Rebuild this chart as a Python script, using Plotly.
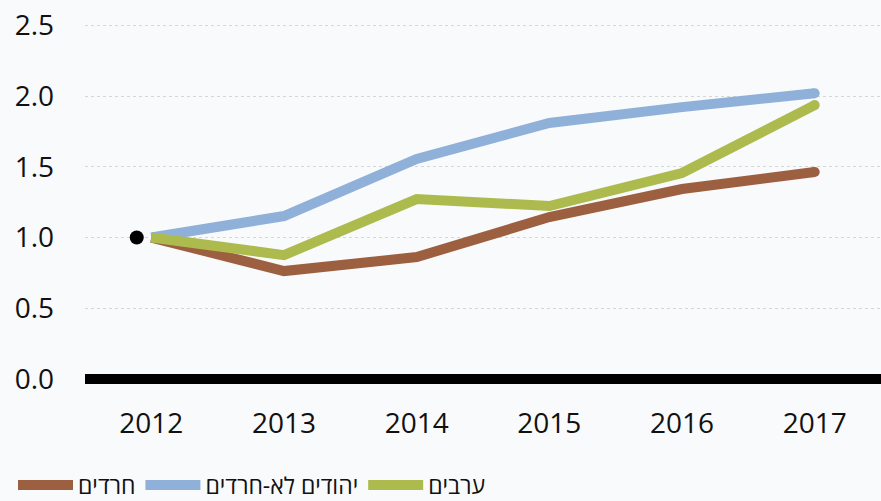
import plotly.graph_objects as go

years = [2012, 2013, 2014, 2015, 2016, 2017]
haredim = [1.0, 0.763, 0.862, 1.145, 1.343, 1.463]
jews_non_haredi = [1.0, 1.152, 1.555, 1.81, 1.922, 2.02]
arabs = [1.0, 0.876, 1.272, 1.223, 1.456, 1.936]
series_names = ["חרדים", "יהודים לא-חרדים", "ערבים"]
series_colors = ["#9c5f40", "#8fb0d8", "#adbb4e"]
base_point_x = [2011.89]
base_point_y = [1.0]
y_ticks = [0.0, 0.5, 1.0, 1.5, 2.0, 2.5]
y_ticklabels = ["0.0", "0.5", "1.0", "1.5", "2.0", "2.5"]

BG = "#f9fafc"
FONT = "Open Sans, Noto Sans, DejaVu Sans, sans-serif"

fig = go.Figure()
for name, vals, col in zip(series_names, [haredim, jews_non_haredi, arabs], series_colors):
    fig.add_trace(go.Scatter(
        x=years, y=vals, name=name, mode="lines",
        line=dict(color=col, width=10),
    ))
# round end caps at the last point of each series
for vals, col in zip([haredim, jews_non_haredi, arabs], series_colors):
    fig.add_trace(go.Scatter(
        x=[years[-1]], y=[vals[-1]], mode="markers",
        marker=dict(color=col, size=10, line=dict(width=0)),
        showlegend=False, hoverinfo="skip",
    ))

fig.add_trace(go.Scatter(
    x=base_point_x, y=base_point_y, mode="markers",
    marker=dict(color="black", size=14), showlegend=False, hoverinfo="skip",
))

fig.update_layout(
    width=881, height=501,
    margin=dict(l=85, r=0, t=12, b=101, autoexpand=False),
    paper_bgcolor=BG, plot_bgcolor=BG,
    font=dict(family=FONT, size=28, color="#111111"),
    showlegend=True,
    legend=dict(
        orientation="h", xref="container", yref="container",
        x=13 / 881, xanchor="left", y=(501 - 485) / 501, yanchor="middle",
        font=dict(size=23, color="#111111"),
        itemwidth=55, bgcolor="rgba(0,0,0,0)",
        traceorder="normal", tracegroupgap=0,
    ),
    xaxis=dict(
        range=[2011.5, 2017.5], tickvals=years, ticktext=[str(y) for y in years],
        showgrid=False, zeroline=False, showline=False, automargin=False,
        ticks="", ticklabelstandoff=4,
    ),
    yaxis=dict(
        range=[-0.148, 2.594], tickvals=y_ticks, ticktext=y_ticklabels,
        showgrid=True, gridcolor="#d6d6d6", griddash="dot", gridwidth=1,
        zeroline=True, zerolinecolor="black", zerolinewidth=10,
        showline=False, ticks="", ticklabelstandoff=30, automargin=False,
    ),
)

fig.write_html(
    "out.html",
    config={"displayModeBar": False},
    post_script="document.body.style.margin='0';document.body.style.background='" + BG + "';",
)
